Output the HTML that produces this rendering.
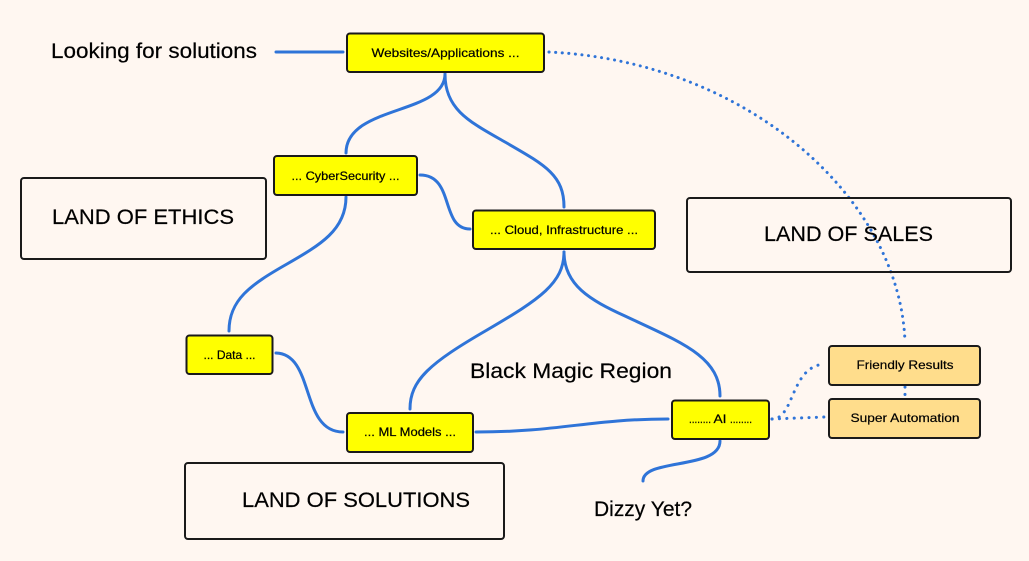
<!DOCTYPE html>
<html>
<head>
<meta charset="utf-8">
<style>
html,body{margin:0;padding:0;background:#FFF7F1;}
svg{display:block;}
text{font-family:"Liberation Sans",sans-serif;fill:#000;stroke:#000;stroke-width:.2;}
.n{fill:#FFFF00;stroke:#1a1a1a;stroke-width:2;}
.o{fill:#FFDD8C;stroke:#1a1a1a;stroke-width:2;}
.l{fill:none;stroke:#1a1a1a;stroke-width:2;}
.c{fill:none;stroke:#2F74D8;stroke-width:3;stroke-linecap:round;}
.d{fill:none;stroke:#2F74D8;stroke-width:3;stroke-linecap:round;stroke-dasharray:0.1 6.500;}
.e{fill:none;stroke:#2F74D8;stroke-width:3;stroke-linecap:round;stroke-dasharray:0.1 7.300;}
.s{font-size:12px;text-anchor:middle;}
.b{font-size:21px;}
</style>
</head>
<body>
<svg width="1029" height="561" viewBox="0 0 1029 561" xmlns="http://www.w3.org/2000/svg">
<rect width="1029" height="561" fill="#FFF7F1"/>

<!-- dotted -->
<path class="d" d="M549 52 C750 62 900 200 905 342"/>
<path class="e" d="M905 387 L905 396"/>
<path class="e" d="M772 419 C795 419 790 366 825 364"/>
<path class="e" d="M772 419 L825 417"/>

<!-- solid connectors -->
<path class="c" d="M276 52 L343 52"/>
<path class="c" d="M445 74 C445 115 346 105 346 153"/>
<path class="c" d="M445 74 C445 110 470 122 505 142 C545 165 564 175 564 207"/>
<path class="c" d="M420 175 C455 175 440 229 470 229"/>
<path class="c" d="M346 197 C346 230 320 245 287 264 C250 285 229 300 229 331"/>
<path class="c" d="M276 353 C315 354 300 432 343 432"/>
<path class="c" d="M564 252 C564 283 540 299 487 330 C430 363 410 380 410 409"/>
<path class="c" d="M564 252 C564 285 590 300 625 316 C680 342 720 356 720 396"/>
<path class="c" d="M476 432 C560 432 590 419 668 419"/>
<path class="c" d="M720 441 C720 470 643 458 643 481"/>

<!-- land boxes -->
<rect class="l" x="21" y="178" width="245" height="81" rx="3"/>
<rect class="l" x="687" y="198" width="324" height="74" rx="3"/>
<rect class="l" x="185" y="463" width="319" height="76" rx="3"/>

<!-- nodes -->
<rect class="n" x="347" y="33.500" width="197" height="38.500" rx="3"/>
<rect class="n" x="274" y="156" width="143" height="39" rx="3"/>
<rect class="n" x="473" y="210.500" width="182" height="38.500" rx="3"/>
<rect class="n" x="186.500" y="335.500" width="86" height="38.500" rx="3"/>
<rect class="n" x="347" y="413" width="126" height="39" rx="3"/>
<rect class="n" x="672" y="400.500" width="97" height="38.500" rx="3"/>
<rect class="o" x="829" y="346" width="151" height="39" rx="3"/>
<rect class="o" x="829" y="399" width="151" height="39" rx="3"/>

<!-- node labels -->
<text class="s" x="445.500" y="57" textLength="148" lengthAdjust="spacingAndGlyphs">Websites/Applications ...</text>
<text class="s" x="345.500" y="180" textLength="108" lengthAdjust="spacingAndGlyphs">... CyberSecurity ...</text>
<text class="s" x="564" y="234" textLength="148" lengthAdjust="spacingAndGlyphs">... Cloud, Infrastructure ...</text>
<text class="s" x="229.500" y="359" textLength="52" lengthAdjust="spacingAndGlyphs">... Data ...</text>
<text class="s" x="410" y="436" textLength="92" lengthAdjust="spacingAndGlyphs">... ML Models ...</text>
<text class="s" x="700" y="423" textLength="22" lengthAdjust="spacingAndGlyphs">........</text>
<text class="s" x="720" y="423" textLength="13" lengthAdjust="spacingAndGlyphs">AI</text>
<text class="s" x="741" y="423" textLength="22" lengthAdjust="spacingAndGlyphs">........</text>
<text class="s" x="905" y="369" textLength="97" lengthAdjust="spacingAndGlyphs">Friendly Results</text>
<text class="s" x="905" y="422" textLength="109" lengthAdjust="spacingAndGlyphs">Super Automation</text>

<!-- free labels -->
<text class="b" x="51" y="58" textLength="206" lengthAdjust="spacingAndGlyphs">Looking for solutions</text>
<text class="b" x="52" y="224" textLength="182" lengthAdjust="spacingAndGlyphs">LAND OF ETHICS</text>
<text class="b" x="764" y="241" textLength="169" lengthAdjust="spacingAndGlyphs">LAND OF SALES</text>
<text class="b" x="242" y="507" textLength="228" lengthAdjust="spacingAndGlyphs">LAND OF SOLUTIONS</text>
<text class="b" x="470" y="378" textLength="202" lengthAdjust="spacingAndGlyphs">Black Magic Region</text>
<text class="b" x="594" y="516" textLength="98" lengthAdjust="spacingAndGlyphs">Dizzy Yet?</text>
</svg>
</body>
</html>
